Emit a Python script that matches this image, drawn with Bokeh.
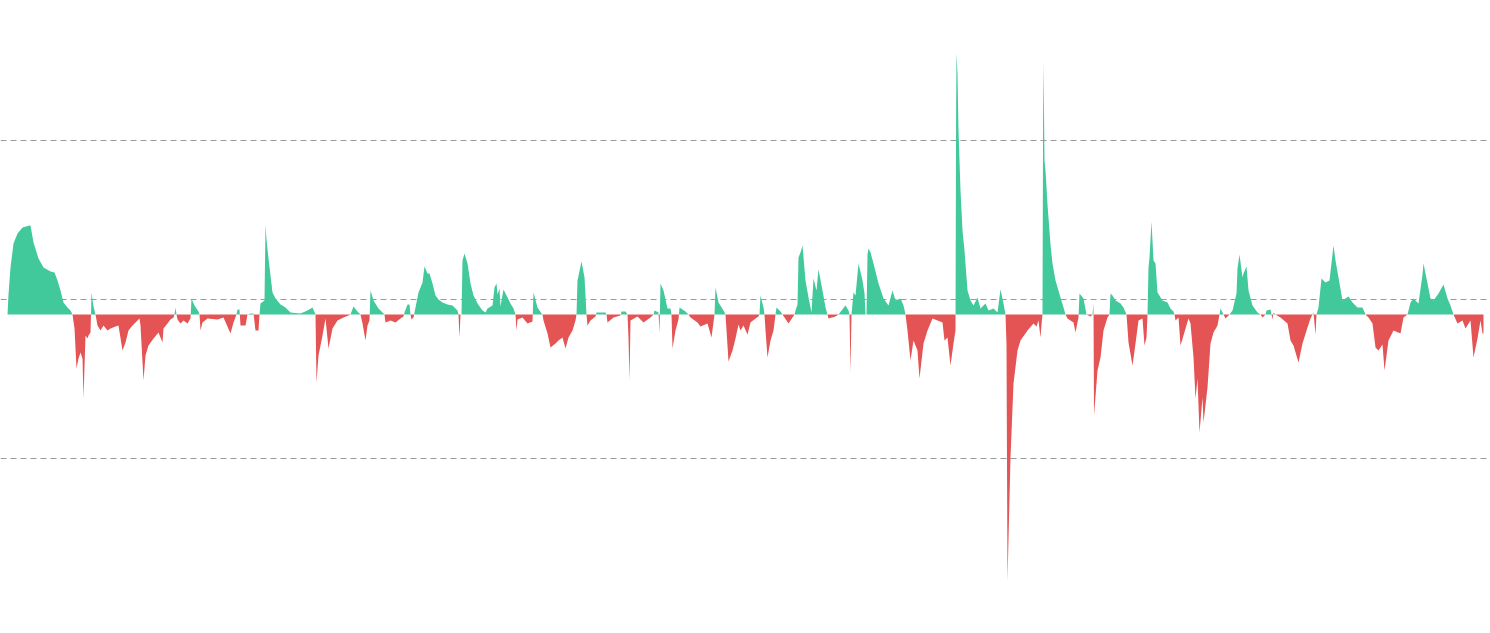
import numpy as np
from bokeh.plotting import figure
from bokeh.models import Range1d, FixedTicker, ColumnDataSource
from bokeh.embed import file_html
from bokeh.resources import INLINE

# Time index (sample position) and rate values
day = [
 7, 8, 10, 13, 17, 22, 29, 30, 33, 38, 43, 50, 54, 57, 60, 63, 67, 70, 72,
 74, 76, 78, 80, 82, 83, 85, 87, 88, 90, 90.5, 91, 93, 95,
 97, 100, 103, 107, 110, 115, 118, 122, 125, 128, 132, 137, 139, 140, 143, 145, 148, 153, 158, 162, 163, 167, 170, 173, 174, 175, 176, 177, 180, 183, 187, 190, 191, 194, 198, 199, 200, 202, 207, 217, 223, 230, 233, 236, 237, 239, 240, 245, 247, 250, 253, 255, 258, 259, 260, 264, 265, 266, 268, 272, 275, 280, 285, 290, 300, 307, 312, 315, 316, 318, 322, 325, 328, 332, 337, 343, 348, 350, 353, 357, 360, 362, 365, 367, 369, 370, 373, 378, 383, 384,
 385, 390, 395, 400, 403, 404, 407, 409, 410, 411, 413, 414, 418, 422, 424, 427, 429, 432, 435, 438, 442, 447, 452, 455, 457, 458, 459, 460, 461, 462, 464, 467, 470, 473, 477, 482, 485, 487, 492, 494, 496, 497, 499, 500, 503, 507, 510, 513, 515, 516, 517, 522, 527, 532, 533, 537, 541, 542, 543, 547, 550, 555, 558, 562, 565, 568, 572, 575, 576, 577, 581, 584, 586, 587, 590, 595, 596, 605, 606, 607, 613, 620, 621, 625, 627, 628, 629, 630, 637, 643, 650, 653, 654, 658, 659, 660, 663, 667, 670, 671, 672, 675, 678, 679, 685, 688, 690, 697, 700, 707, 711, 714, 715, 718, 723, 725, 728, 732, 735, 738, 740,
 743, 747, 750, 755, 758, 759, 760, 763, 764, 765, 767, 770, 773, 775, 776, 780, 782, 788, 792, 794, 795, 797, 798, 800, 802, 805, 808, 811, 813, 816, 818, 822, 825, 827, 828, 835, 838, 845, 848, 849, 850, 851, 853, 855, 858, 862, 864, 865, 866, 867, 868, 870, 873, 878, 883, 888, 892, 895, 900, 903, 905, 907, 910, 913, 917, 919, 923, 927, 932, 937, 942, 944, 947, 950, 953, 955, 955.6, 956, 957, 958, 960, 962, 964, 967, 970, 973, 977, 980, 985, 988, 993, 997, 1000, 1003, 1005,
 1006, 1007, 1010, 1013, 1017, 1020, 1027, 1033, 1036, 1038, 1040, 1041, 1042, 1042.6, 1043, 1044, 1045, 1047, 1050, 1052, 1055, 1060, 1063, 1065, 1067, 1073, 1075, 1078, 1079, 1083, 1086, 1090, 1092, 1093, 1093.5, 1097, 1100, 1103, 1107, 1109, 1110,
 1112, 1115, 1120, 1123, 1126, 1128, 1132, 1135, 1138, 1142, 1144, 1146, 1147, 1148, 1149, 1151, 1153, 1155, 1157, 1162, 1167, 1170, 1173, 1174, 1175, 1178, 1180, 1183, 1188, 1190, 1193, 1195, 1197, 1199, 1202, 1203, 1207, 1210, 1213, 1217, 1219, 1220, 1223, 1225, 1229, 1232, 1236, 1237, 1239, 1242, 1243, 1246, 1248, 1252, 1257, 1260, 1262, 1265, 1266, 1270, 1272, 1273, 1275, 1280, 1287, 1290, 1293, 1298, 1302, 1307, 1310, 1313, 1315, 1316, 1318, 1321, 1325, 1329, 1333, 1335, 1338, 1342, 1348, 1352, 1357, 1362, 1365, 1368, 1372, 1375, 1378, 1382, 1384, 1388, 1393, 1400, 1403, 1407, 1410, 1413, 1418, 1422, 1423, 1427, 1430, 1433, 1438, 1443, 1447, 1450, 1453, 1457, 1462, 1465, 1470, 1473, 1477, 1480, 1482, 1483,
]
rate = [
 0, 20, 47, 71, 81, 87, 89, 89, 72, 56, 47, 43, 42, 34, 24, 12, 7, 4, 0,
 -14, -54, -44, -38, -44, -84, -21, -24, -21, -18, 0, 22, 8, 0,
 -11, -16, -11, -16, -14, -12, -11, -36, -28, -16, -11, -6, -4, -11, -66, -41, -31, -24, -18, -28, -14, -9, -5, -3, 0, 7, 0, -5, -9, -6, -9, -4, 16, 9, 3, 0, -16, -8, -4, -5, -3, -19, -8, 0, 5, 5, -11, -11, 0, 1, 1, -16, -16, 0, 11, 14, 90, 75, 56, 22, 16, 10, 7, 2, 1, 4, 7, 0, -68, -41, -21, -4, -34, -14, -6, -3, -1, 0, 8, 3, 0, -9, -26, -11, -6, 24, 14, 6, 1, 0,
 -8, -6, -8, -4, -2, 2, 10, 10, 0, -5, -3, 2, 22, 32, 48, 41, 41, 31, 19, 15, 12, 10, 9, 6, 4, 0, -23, 0, 0, 54, 61, 51, 31, 19, 11, 4, 2, 6, 9, 27, 31, 20, 26, 8, 25, 17, 11, 6, 0, -16, -5, -3, -9, -7, 22, 7, 1, 0, -6, -19, -33, -29, -26, -23, -34, -23, -16, -6, 0, 34, 53, 37, 0, -11, -6, -2, 2, 2, 0, -8, -3, -1, 3, 3, 0, -23, -66, -6, -2, -8, -3, 0, 4, 2, -18, 31, 24, 6, 6, 0, -34, -16, -5, 7, 3, 0, -3, -8, -12, -9, -23, 0, 27, 12, 4, 0, -47, -36, -24, -10, -16,
 -11, -20, -8, -4, -2, 0, 19, 7, 0, -16, -43, -26, -16, 0, 7, 3, 0, -9, -3, 0, 4, 10, 57, 62, 69, 34, 17, 2, 36, 24, 45, 24, 7, 0, -4, -2, 0, 9, 4, 0, -58, 0, 22, 19, 51, 34, 21, 0, 0, 60, 66, 62, 51, 31, 16, 9, 24, 14, 16, 9, 0, -16, -46, -26, -36, -64, -29, -16, -4, -6, -8, -26, -23, -51, -29, -16, 200, 262, 240, 184, 124, 84, 64, 24, 14, 9, 17, 6, 11, 4, 6, 2, 25, 11, 0,
 -30, -266, -143, -69, -36, -26, -16, -9, -12, -6, -23, -10, 0, 200, 252, 154, 144, 110, 70, 51, 34, 17, 7, 0, -4, -8, -18, -3, 21, 16, 0, -2, 0, 11, -101, -56, -43, -16, -3, 0, 21,
 19, 14, 11, 7, 0, -28, -51, -29, -6, -4, -31, -23, 0, 47, 57, 93, 54, 51, 22, 14, 12, 6, 3, 0, -6, -3, -31, -21, -4, -9, -43, -84, -64, -118, -83, -108, -73, -29, -18, -11, 0, 6, 0, -4, 0, 4, 21, 46, 60, 37, 41, 48, 24, 9, 2, 0, -3, 0, 4, 5, -5, 2, 0, -3, -9, -26, -31, -48, -29, -13, -4, 2, -20, 0, 7, 36, 32, 34, 69, 54, 37, 14, 18, 12, 7, 7, 0, -3, -9, -33, -36, -30, -56, -26, -16, -19, -3, 0, 12, 16, 11, 40, 51, 31, 16, 14, 21, 30, 16, 9, 0, -9, -6, -14, -6, -43, -24, -6, -19, -19,
]
grid_levels = [-144, 15.5, 174]

GREEN = "#41c89b"
RED = "#e45454"

x = np.array(day, dtype=float)
y = np.array(rate, dtype=float)
# insert zero crossings so the two fills meet at the baseline
xs, ys = [x[0]], [y[0]]
for i in range(1, len(x)):
    if y[i - 1] * y[i] < 0:
        t = y[i - 1] / (y[i - 1] - y[i])
        xs.append(x[i - 1] + t * (x[i] - x[i - 1]))
        ys.append(0.0)
    xs.append(x[i])
    ys.append(y[i])
xs = np.array(xs)
ys = np.array(ys)

src = ColumnDataSource(dict(x=xs, pos=np.maximum(ys, 0), neg=np.minimum(ys, 0), zero=np.zeros_like(ys)))

p = figure(width=1488, height=625, output_backend="svg", toolbar_location=None,
           x_range=Range1d(0, 1488), y_range=Range1d(-311, 314),
           min_border=0, min_border_left=0, min_border_right=0,
           min_border_top=0, min_border_bottom=0)
p.outline_line_color = None
p.background_fill_color = "white"
p.border_fill_color = "white"
p.xaxis.visible = False
p.yaxis.visible = False
p.yaxis.ticker = FixedTicker(ticks=grid_levels)
p.xgrid.visible = False
p.ygrid.ticker = FixedTicker(ticks=grid_levels)
p.ygrid.grid_line_color = "#9a9a9a"
p.ygrid.grid_line_dash = "6 4"
p.ygrid.grid_line_width = 1

p.varea(x="x", y1="zero", y2="pos", source=src, fill_color=GREEN, fill_alpha=1.0)
p.varea(x="x", y1="zero", y2="neg", source=src, fill_color=RED, fill_alpha=1.0)

open("out.html", "w").write(file_html(p, INLINE))
